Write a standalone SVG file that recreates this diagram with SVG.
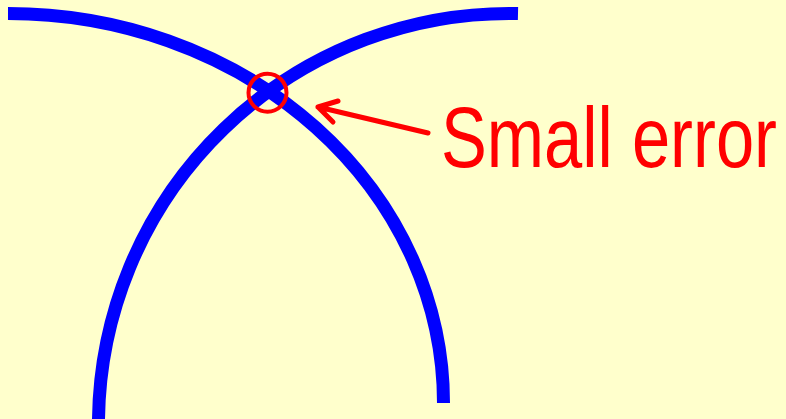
<svg xmlns="http://www.w3.org/2000/svg" width="786" height="419" viewBox="0 0 786 419">
<style>
.arc{fill:none;stroke:#0000FF;stroke-width:13;stroke-linecap:butt}
.red{fill:none;stroke:#FF0000;stroke-linecap:round;stroke-linejoin:round}
.lbl{font-family:"Liberation Sans",Arial,sans-serif;font-size:68.5px;fill:#FF0000}
</style>
<rect width="786" height="419" fill="#FFFFCC"/>
<g id="connectors">
<path id="arc-left" class="arc" d="M8,13.5 A435.5,389.5 0 0,1 443.5,403"/>
<path id="arc-right" class="arc" d="M518,13.5 A411,411 0 0,0 98.5,419"/>
<path id="arrow" class="red" stroke-width="5" d="M428,133 L318,107 M338,101 L318,107 L333,122"/>
</g>
<g id="error-mark">
<circle class="red" cx="267.5" cy="92.7" r="19" stroke-width="4"/>
</g>
<g id="label" transform="scale(1,1.2555)">
<text class="lbl" x="441" y="133.41" textLength="336" lengthAdjust="spacingAndGlyphs">Small error</text>
</g>
</svg>
